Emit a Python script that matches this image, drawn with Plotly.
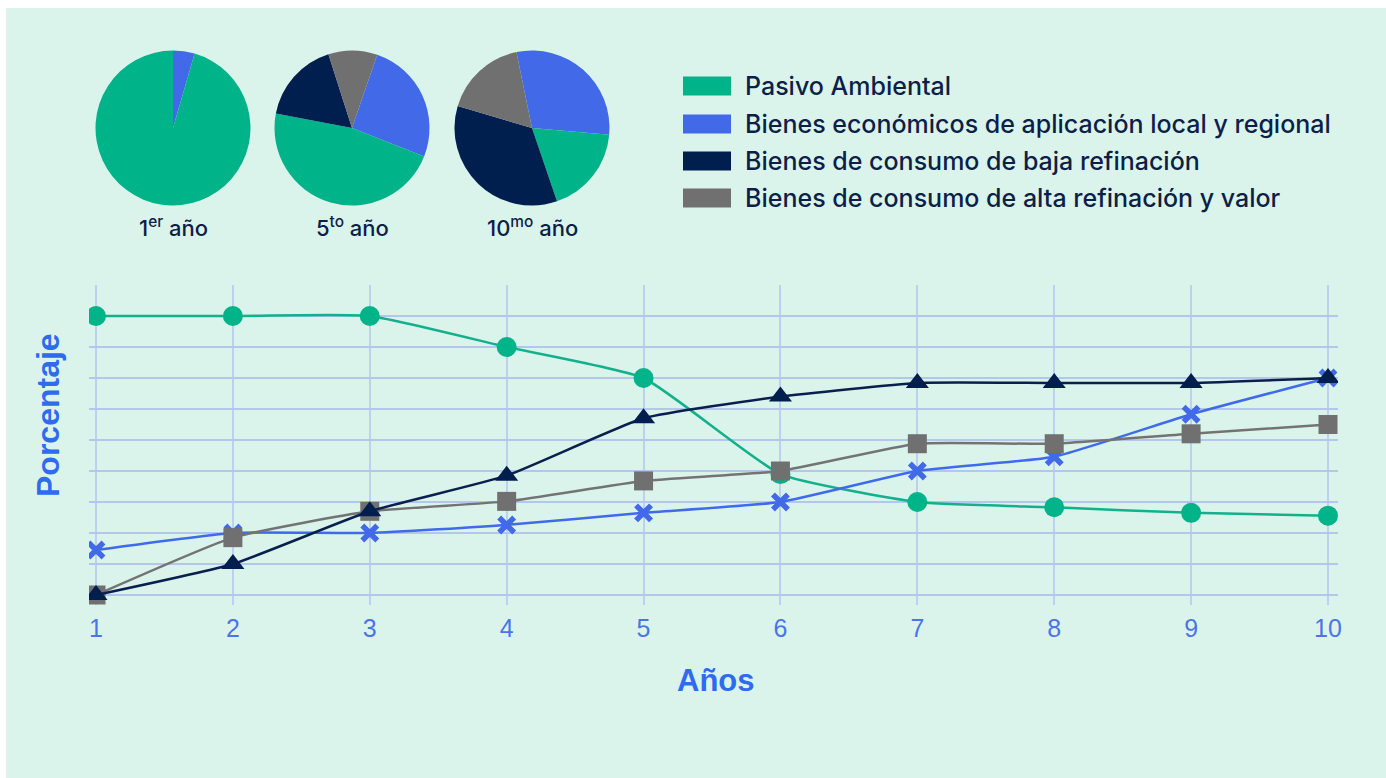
import plotly.graph_objects as go

W, H = 1386, 778

# ---- data ----
years = [1, 2, 3, 4, 5, 6, 7, 8, 9, 10]
year_labels = ["1", "2", "3", "4", "5", "6", "7", "8", "9", "10"]
series_names = [
    "Pasivo Ambiental",
    "Bienes económicos de aplicación local y regional",
    "Bienes de consumo de baja refinación",
    "Bienes de consumo de alta refinación y valor",
]
pasivo = [90, 90, 90, 80, 70, 39, 30, 28.3, 26.5, 25.6]
bienes_locales = [14.5, 20, 20, 22.6, 26.5, 30, 40, 44.6, 58.3, 70]
baja_refinacion = [0, 10, 27, 38.5, 57, 64, 68.4, 68.4, 68.4, 70]
alta_refinacion = [0, 18.5, 27, 30.2, 36.8, 40, 48.8, 48.8, 52, 55]

# pie slices in order: local/regional, pasivo, baja, alta (clockwise)
pie_labels = ["1<sup>er</sup> año", "5<sup>to</sup> año", "10<sup>mo</sup> año"]
pie_year1 = [4.5, 95.5, 0, 0]
pie_year5 = [25.7, 47.0, 17.1, 10.2]
pie_year10 = [29.6, 18.4, 34.8, 17.2]
pie_rotations = [0, 19, -11.6]

# ---- style ----
GREEN = "#00B388"
BLUE = "#4169E8"
NAVY = "#001F4E"
GRAY = "#707070"
MINT = "#DAF4EC"
TEXT_NAVY = "#0E1F47"
AXIS_BLUE = "#2F6BF0"
TICK_BLUE = "#4C74E8"
FONT = "Inter, 'Open Sans', sans-serif"
ARIAL = "'Liberation Sans', Arial, sans-serif"

fig = go.Figure()

# pies
pie_vals = [pie_year1, pie_year5, pie_year10]
pie_cx = [173, 352, 532]
pie_cy = 128
R = 77.5
slice_names = [series_names[1], series_names[0], series_names[2], series_names[3]]
slice_colors = [BLUE, GREEN, NAVY, GRAY]
for vals, cx, rot in zip(pie_vals, pie_cx, pie_rotations):
    fig.add_trace(go.Pie(
        labels=slice_names, values=vals, sort=False, direction="clockwise",
        rotation=rot, textinfo="none", hoverinfo="label+percent",
        marker=dict(colors=slice_colors, line=dict(width=0)),
        domain=dict(x=[(cx - R) / W, (cx + R) / W],
                    y=[1 - (pie_cy + R) / H, 1 - (pie_cy - R) / H]),
        showlegend=False,
    ))

# lines
line_specs = [
    (pasivo, series_names[0], GREEN, "#13B08B", "circle", 20, 0),
    (bienes_locales, series_names[1], BLUE, "#3F6AEB", "x-thin", 15, 5.5),
    (alta_refinacion, series_names[3], GRAY, "#737373", "square", 19, 0),
    (baja_refinacion, series_names[2], NAVY, "#0B1F4D", "triangle-up", 20, 0),
]
for ys, name, mcol, lcol, sym, size, lw in line_specs:
    fig.add_trace(go.Scatter(
        x=years, y=ys, name=name, mode="lines+markers",
        line=dict(color=lcol, width=2.5, shape="spline", smoothing=0.45),
        marker=dict(symbol=sym, size=size, color=mcol, line=dict(width=lw, color=mcol)),
        showlegend=False, xaxis="x", yaxis="y",
    ))

px_per_x = (1328 - 96) / 9
x0 = 1 - (96 - 89) / px_per_x
x1 = 10 + (1338 - 1328) / px_per_x
px_per_y = 3.1
y0 = -(605 - 595) / px_per_y

shapes = [
    dict(type="rect", xref="paper", yref="paper", x0=6 / W, x1=1, y0=0, y1=1 - 8 / H,
         fillcolor=MINT, line=dict(width=0), layer="below"),
]
annotations = []

# legend (drawn manually)
leg_rows = [86, 124, 161, 198]
leg_colors = [GREEN, BLUE, NAVY, GRAY]
for name, col, yc in zip(series_names, leg_colors, leg_rows):
    shapes.append(dict(type="rect", xref="paper", yref="paper",
                       x0=683 / W, x1=731 / W, y0=1 - (yc + 9.5) / H, y1=1 - (yc - 9.5) / H,
                       fillcolor=col, line=dict(width=0)))
    annotations.append(dict(xref="paper", yref="paper", x=743 / W, y=1 - yc / H,
                            xanchor="left", yanchor="middle", showarrow=False, text=name,
                            font=dict(family=FONT, size=25, color=TEXT_NAVY, weight=500)))

# pie labels
for lab, cx in zip(pie_labels, pie_cx):
    annotations.append(dict(xref="paper", yref="paper", x=cx / W, y=1 - 226 / H,
                            xanchor="center", yanchor="middle", showarrow=False, text=lab,
                            font=dict(family=FONT, size=22, color=TEXT_NAVY, weight=500)))

# axis titles
annotations.append(dict(xref="paper", yref="paper", x=716 / W, y=1 - 680 / H,
                        xanchor="center", yanchor="middle", showarrow=False, text="<b>Años</b>",
                        font=dict(family=ARIAL, size=31, color=AXIS_BLUE)))
annotations.append(dict(xref="paper", yref="paper", x=48 / W, y=1 - 415 / H,
                        xanchor="center", yanchor="middle", showarrow=False, text="<b>Porcentaje</b>",
                        textangle=-90, font=dict(family=ARIAL, size=32, color=AXIS_BLUE)))

fig.update_layout(
    width=W, height=H, template="none",
    paper_bgcolor="white", plot_bgcolor="rgba(0,0,0,0)",
    margin=dict(l=0, r=0, t=0, b=0),
    xaxis=dict(domain=[89 / W, 1338 / W], range=[x0, x1], tickvals=years, ticktext=year_labels,
               showgrid=True, gridcolor="#BDD0EF", gridwidth=1.5, zeroline=False, showline=False,
               ticks="", ticklabelstandoff=6,
               tickfont=dict(family=ARIAL, size=25, color=TICK_BLUE), automargin=False),
    yaxis=dict(domain=[1 - 605 / H, 1 - 285 / H], range=[y0, 100], dtick=10, tick0=0,
               showgrid=True, gridcolor="#B3C7EC", gridwidth=2, zeroline=False, showline=False,
               showticklabels=False, ticks="", automargin=False),
    shapes=shapes, annotations=annotations, showlegend=False,
)

fig.write_html("out.html")
